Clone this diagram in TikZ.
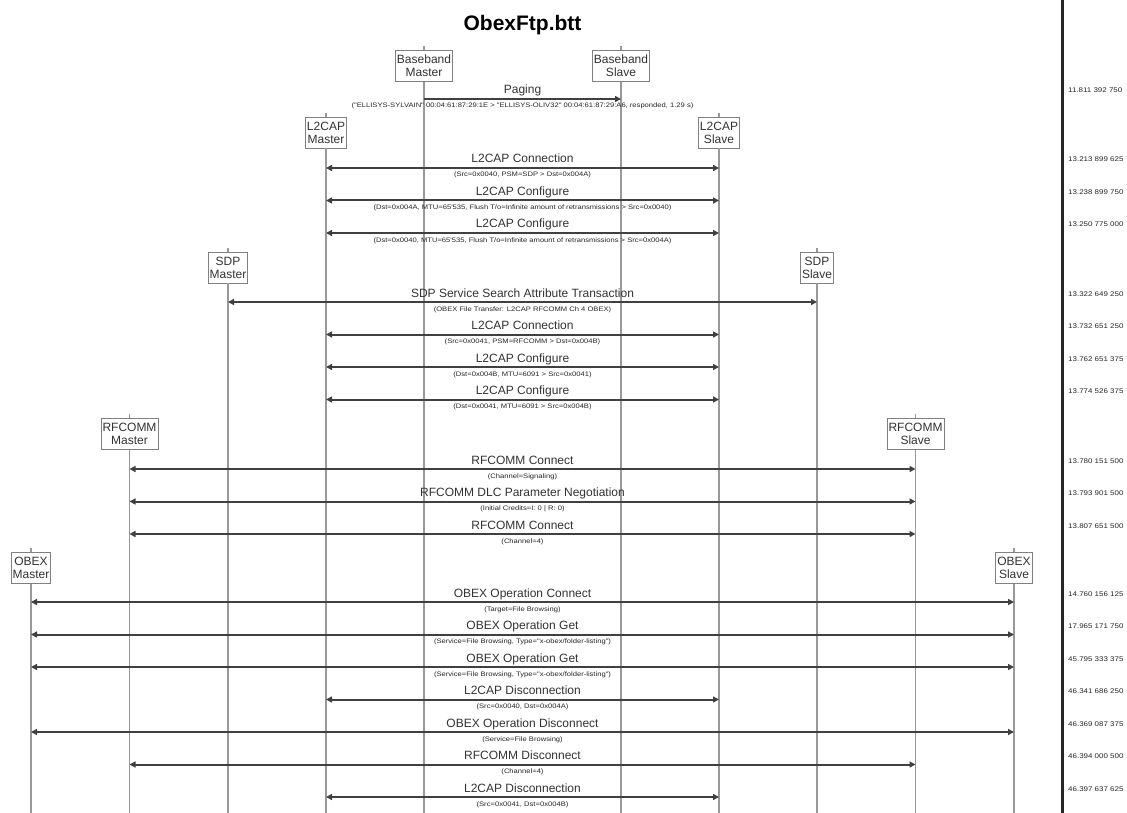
\documentclass[tikz,border=0pt]{standalone}
\usepackage{fontspec}
\setmainfont{Liberation Sans}
\newfontfamily\smallsans{Liberation Sans}[FakeStretch=1.17]
\usetikzlibrary{arrows.meta}
\tikzset{
  box/.style={draw=black!50, line width=0.9pt, fill=white, align=center,
    font=\fontsize{12}{13}\selectfont, text=black!80, inner xsep=1.5pt,
    inner ysep=1pt, minimum height=31pt},
  life/.style={draw=black!40, line width=1.4pt},
  msg/.style={draw=black!75, line width=2pt, {Triangle[length=6pt,width=6pt]}-{Triangle[length=6pt,width=6pt]}},
  onemsg/.style={draw=black!75, line width=2pt, -{Triangle[length=6pt,width=6pt]}},
  lbl/.style={font=\fontsize{12}{13}\selectfont, text=black!80, inner sep=0pt, anchor=base},
  sublbl/.style={font=\smallsans\fontsize{6.5}{7}\selectfont, text=black!85, inner sep=0pt, anchor=base},
  tstamp/.style={font=\smallsans\fontsize{6.8}{7.5}\selectfont, text=black!85, inner sep=0pt, anchor=base west},
  ttl/.style={font=\bfseries\fontsize{21}{24}\selectfont, inner sep=0pt, anchor=base},
}
\newcommand\sqmsg[8][msg]{%
  \coordinate (#8) at (522.5,#4);
  \draw[#1] (#2 |- #8) -- (#3 |- #8);
  \node[lbl] (#8l) at (522.5,#4-5) {#5};
  \node[sublbl] (#8s) at (522.5,#4+9) {#6};
  \node[tstamp] (#8t) at (1068,#4-6) {#7};
}
\begin{document}
\begin{tikzpicture}[x=1pt,y=-1pt]
\fill[white] (0,0) rectangle (1127,813);
\useasboundingbox (0,0) rectangle (1127,813);
\coordinate (bot) at (522.5,813);
\node[ttl] (title) at (522.5,30.5) {ObexFtp.btt};
% right time axis
\coordinate (axtop) at (1062,0);
\coordinate (axbot) at (1062,813);
\draw[black!85, line width=3pt] (axtop) -- (axbot);
% lifeline boxes
\node[box] (bbm) at (424,66) {Baseband\\Master};
\node[box] (bbs) at (621,66) {Baseband\\Slave};
\node[box] (l2m) at (326,132.5) {L2CAP\\Master};
\node[box] (l2s) at (719,132.5) {L2CAP\\Slave};
\node[box] (sdpm) at (228,267.5) {SDP\\Master};
\node[box] (sdps) at (817,267.5) {SDP\\Slave};
\node[box] (rfm) at (129.5,434) {RFCOMM\\Master};
\node[box] (rfs) at (915.5,434) {RFCOMM\\Slave};
\node[box] (obm) at (31,568) {OBEX\\Master};
\node[box] (obs) at (1014,568) {OBEX\\Slave};
% lifelines
\foreach \b in {bbm,bbs,l2m,l2s,sdpm,sdps,rfm,rfs,obm,obs}{
  \draw[life] (\b.north) -- ++(0,-4);
  \draw[life] (\b.south) -- (\b |- bot);
}
% messages
\sqmsg[onemsg]{bbm}{bbs}{99}{Paging}{("ELLISYS-SYLVAIN" 00:04:61:87:29:1E > "ELLISYS-OLIV32" 00:04:61:87:29:A6, responded, 1.29 s)}{11.811 392 750}{r0}
\sqmsg{l2m}{l2s}{168}{L2CAP Connection}{(Src=0x0040, PSM=SDP > Dst=0x004A)}{13.213 899 625}{r1}
\sqmsg{l2m}{l2s}{200.5}{L2CAP Configure}{(Dst=0x004A, MTU=65'535, Flush T/o=Infinite amount of retransmissions > Src=0x0040)}{13.238 899 750}{r2}
\sqmsg{l2m}{l2s}{233}{L2CAP Configure}{(Dst=0x0040, MTU=65'535, Flush T/o=Infinite amount of retransmissions > Src=0x004A)}{13.250 775 000}{r3}
\sqmsg{sdpm}{sdps}{302}{SDP Service Search Attribute Transaction}{(OBEX File Transfer: L2CAP RFCOMM Ch 4 OBEX)}{13.322 649 250}{r4}
\sqmsg{l2m}{l2s}{334.5}{L2CAP Connection}{(Src=0x0041, PSM=RFCOMM > Dst=0x004B)}{13.732 651 250}{r5}
\sqmsg{l2m}{l2s}{367}{L2CAP Configure}{(Dst=0x004B, MTU=6091 > Src=0x0041)}{13.762 651 375}{r6}
\sqmsg{l2m}{l2s}{399.5}{L2CAP Configure}{(Dst=0x0041, MTU=6091 > Src=0x004B)}{13.774 526 375}{r7}
\sqmsg{rfm}{rfs}{469}{RFCOMM Connect}{(Channel=Signaling)}{13.780 151 500}{r8}
\sqmsg{rfm}{rfs}{501.5}{RFCOMM DLC Parameter Negotiation}{(Initial Credits=I: 0 | R: 0)}{13.793 901 500}{r9}
\sqmsg{rfm}{rfs}{534}{RFCOMM Connect}{(Channel=4)}{13.807 651 500}{r10}
\sqmsg{obm}{obs}{602}{OBEX Operation Connect}{(Target=File Browsing)}{14.760 156 125}{r11}
\sqmsg{obm}{obs}{634.5}{OBEX Operation Get}{(Service=File Browsing, Type="x-obex/folder-listing")}{17.965 171 750}{r12}
\sqmsg{obm}{obs}{667}{OBEX Operation Get}{(Service=File Browsing, Type="x-obex/folder-listing")}{45.795 333 375}{r13}
\sqmsg{l2m}{l2s}{699.5}{L2CAP Disconnection}{(Src=0x0040, Dst=0x004A)}{46.341 686 250}{r14}
\sqmsg{obm}{obs}{732}{OBEX Operation Disconnect}{(Service=File Browsing)}{46.369 087 375}{r15}
\sqmsg{rfm}{rfs}{764.5}{RFCOMM Disconnect}{(Channel=4)}{46.394 000 500}{r16}
\sqmsg{l2m}{l2s}{797}{L2CAP Disconnection}{(Src=0x0041, Dst=0x004B)}{46.397 637 625}{r17}
\end{tikzpicture}
\end{document}
